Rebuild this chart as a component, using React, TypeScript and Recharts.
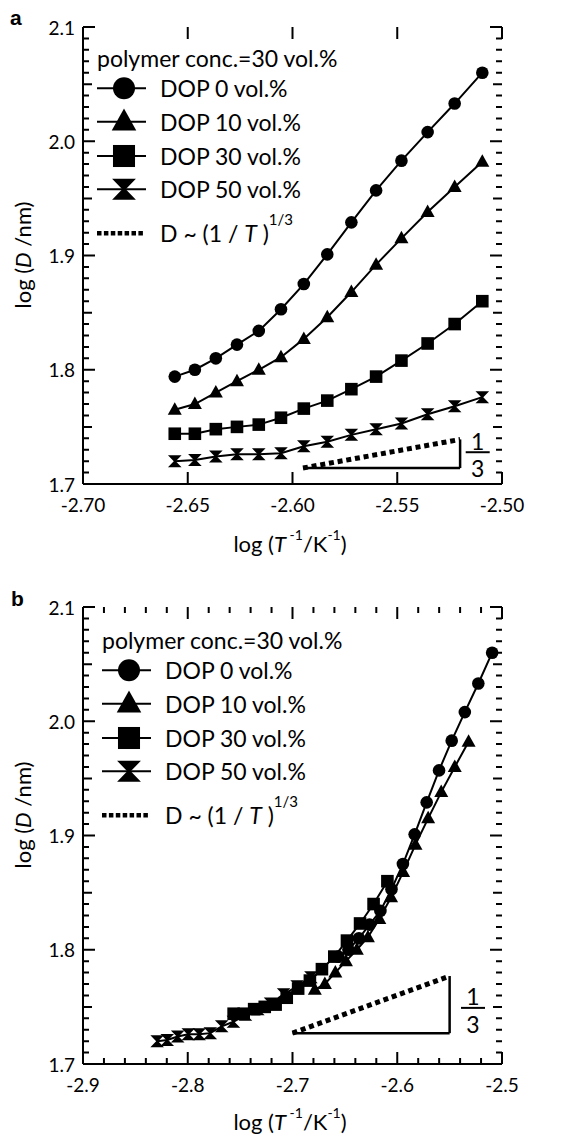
import React from "react";
import { ScatterChart, Scatter, XAxis, YAxis, ReferenceLine, ReferenceDot } from "recharts";

const FONT = "Lato, 'Open Sans', sans-serif";

// log(1/T) for the 14 measured temperatures (panel a, and DOP 0 in panel b)
const invT = [-2.6562, -2.6466, -2.6366, -2.6265, -2.6161, -2.6055, -2.5946, -2.5834, -2.5719, -2.5601, -2.548, -2.5355, -2.5226, -2.5094];

// log(D/nm) per DOP content
const dop0 = [1.794, 1.8, 1.81, 1.822, 1.834, 1.853, 1.875, 1.901, 1.929, 1.957, 1.983, 2.008, 2.033, 2.06];
const dop10 = [1.765, 1.77, 1.78, 1.79, 1.8, 1.811, 1.827, 1.846, 1.868, 1.892, 1.915, 1.938, 1.96, 1.982];
const dop30 = [1.744, 1.744, 1.748, 1.75, 1.752, 1.758, 1.766, 1.773, 1.783, 1.794, 1.808, 1.823, 1.84, 1.86];
const dop50 = [1.72, 1.721, 1.724, 1.726, 1.726, 1.727, 1.733, 1.737, 1.743, 1.748, 1.753, 1.761, 1.768, 1.776];

// panel b: shifted abscissae
const invT10b = [-2.6787, -2.6691, -2.6591, -2.649, -2.6386, -2.628, -2.6171, -2.6059, -2.5944, -2.5826, -2.5705, -2.558, -2.5451, -2.5319];
const invT30b = [-2.7562, -2.7466, -2.7366, -2.7265, -2.7161, -2.7055, -2.6946, -2.6834, -2.6719, -2.6601, -2.648, -2.6355, -2.6226, -2.6094];
const invT50b = [-2.8292, -2.8196, -2.8096, -2.7995, -2.7891, -2.7785, -2.7676, -2.7564, -2.7449, -2.7331, -2.721, -2.7085, -2.6956, -2.6824];

const legendLabels = ["DOP 0 vol.%", "DOP 10 vol.%", "DOP 30 vol.%", "DOP 50 vol.%"];

// slope guide D ~ (1/T)^(1/3): [start, end]
const slopeA = [{ x: -2.595, y: 1.714 }, { x: -2.52, y: 1.739 }];
const slopeB = [{ x: -2.7, y: 1.727 }, { x: -2.55, y: 1.777 }];

// tick lists
const xTicksA = [-2.7, -2.65, -2.6, -2.55, -2.5];
const xTicksB = [-2.9, -2.8, -2.7, -2.6, -2.5];
const xMinorB = [-2.88, -2.86, -2.84, -2.82, -2.78, -2.76, -2.74, -2.72, -2.68, -2.66, -2.64, -2.62, -2.58, -2.56, -2.54, -2.52];
const yTicks = [1.7, 1.8, 1.9, 2.0, 2.1];
const yMid = [1.75, 1.85, 1.95, 2.05];
const yMinor = [
  1.71, 1.72, 1.73, 1.74, 1.76, 1.77, 1.78, 1.79, 1.81, 1.82, 1.83, 1.84, 1.86, 1.87, 1.88, 1.89,
  1.91, 1.92, 1.93, 1.94, 1.96, 1.97, 1.98, 1.99, 2.01, 2.02, 2.03, 2.04, 2.06, 2.07, 2.08, 2.09,
];
const yDomain: [number, number] = [1.7, 2.1];

// plot frame, shared by both panels
const PLOT_LEFT = 83;
const PLOT_RIGHT_MARGIN = 70;
const PLOT_W = 572 - PLOT_RIGHT_MARGIN - PLOT_LEFT;

const rows = (xs: number[], ys: number[]) => xs.map((x, i) => ({ x, y: ys[i] }));

// markers
const circle = (cx: number, cy: number, s = 1) => <circle cx={cx} cy={cy} r={6.3 * s} fill="#000" />;
const triangle = (cx: number, cy: number, s = 1) => (
  <polygon points={`${cx},${cy - 7.5 * s} ${cx + 7 * s},${cy + 5 * s} ${cx - 7 * s},${cy + 5 * s}`} fill="#000" />
);
const square = (cx: number, cy: number, s = 1) => (
  <rect x={cx - 6.3 * s} y={cy - 6.3 * s} width={12.6 * s} height={12.6 * s} fill="#000" />
);
const hourglass = (cx: number, cy: number, s = 1) => (
  <polygon
    points={`${cx - 6.8 * s},${cy - 6 * s} ${cx + 6.8 * s},${cy - 6 * s} ${cx + 1 * s},${cy} ${cx + 6.8 * s},${cy + 6 * s} ${cx - 6.8 * s},${cy + 6 * s} ${cx - 1 * s},${cy}`}
    fill="#000"
  />
);
const markers = [circle, triangle, square, hourglass];

const xLabel = (digits: number) => (props: any) => (
  <text x={props.x} y={Number(props.y) + 20} textAnchor="middle" dominantBaseline="central" fill="#000" fontSize={19} fontFamily={FONT}>
    {Number(props.payload.value).toFixed(digits)}
  </text>
);
const yLabel = (props: any) => (
  <text x={Number(props.x) - 8} y={props.y} textAnchor="end" dominantBaseline="central" fill="#000" fontSize={19} fontFamily={FONT}>
    {Number(props.payload.value).toFixed(1)}
  </text>
);

type Pt = { x: number; y: number };

// inward tick marks on all four sides of the frame
function FrameTicks({
  top,
  plotTop,
  plotH,
  xDomain,
  xMajor,
  xMinor,
}: {
  top: number;
  plotTop: number;
  plotH: number;
  xDomain: [number, number];
  xMajor: number[];
  xMinor: number[];
}) {
  const px = (v: number) => PLOT_LEFT + ((v - xDomain[0]) / (xDomain[1] - xDomain[0])) * PLOT_W;
  const py = (v: number) => plotTop + ((yDomain[1] - v) / (yDomain[1] - yDomain[0])) * plotH;
  const right = PLOT_LEFT + PLOT_W;
  const bottom = plotTop + plotH;
  const ys: [number, number][] = [
    ...yTicks.map((v) => [v, 12] as [number, number]),
    ...yMid.map((v) => [v, 9] as [number, number]),
    ...yMinor.map((v) => [v, 6] as [number, number]),
  ];
  const xs: [number, number][] = [...xMajor.map((v) => [v, 12] as [number, number]), ...xMinor.map((v) => [v, 6] as [number, number])];
  let d = "";
  ys.forEach(([v, len]) => {
    const y = py(v);
    d += `M${PLOT_LEFT},${y}h${len}M${right},${y}h${-len}`;
  });
  xs.forEach(([v, len]) => {
    const x = px(v);
    d += `M${x},${bottom}v${-len}M${x},${plotTop}v${len}`;
  });
  return (
    <svg style={{ position: "absolute", left: 0, top, pointerEvents: "none" }} width={572} height={plotTop + plotH + 2}>
      <path d={d} stroke="#000" strokeWidth={2} fill="none" />
    </svg>
  );
}

function LegendBox({ left, top }: { left: number; top: number }) {
  const rowY = [61.3, 94.7, 129, 162.3];
  return (
    <svg style={{ position: "absolute", left, top }} width={260} height={222}>
      <text x={0} y={31.3} dominantBaseline="central" fontSize={23} fontFamily={FONT}>
        polymer conc.=30 vol.%
      </text>
      {legendLabels.map((label, i) => (
        <g key={label}>
          <line x1={0} x2={49} y1={rowY[i]} y2={rowY[i]} stroke="#000" strokeWidth={2} />
          {markers[i](27, rowY[i], 1.75)}
          <text x={63} y={rowY[i]} dominantBaseline="central" fontSize={23} fontFamily={FONT}>
            {label}
          </text>
        </g>
      ))}
      <line x1={0} x2={48} y1={206.3} y2={206.3} stroke="#000" strokeWidth={4.5} strokeDasharray="4.5 2.4" />
      <text x={63} y={206.3} dominantBaseline="central" fontSize={23} fontFamily={FONT}>
        D ~ (1 / <tspan fontStyle="italic">T</tspan> )<tspan dy={-14} fontSize={15}>1/3</tspan>
      </text>
    </svg>
  );
}

const fraction = (dx: number, dy: number) => (props: any) => {
  const { cx, cy } = props;
  const bx = cx + dx;
  const by = cy + dy;
  return (
    <g fontFamily={FONT} fontSize={23} fill="#000">
      <text x={bx} y={by - 11.5} textAnchor="middle" dominantBaseline="central">1</text>
      <line x1={bx - 12} x2={bx + 12} y1={by} y2={by} stroke="#000" strokeWidth={2} />
      <text x={bx} y={by + 16} textAnchor="middle" dominantBaseline="central">3</text>
    </g>
  );
};

const axisLine = { stroke: "#000", strokeWidth: 2 };

function Panel({
  height,
  marginTop,
  xHeight,
  xDomain,
  xTicks,
  xDigits,
  series,
  slope,
  fracDx,
  fracDy,
}: {
  height: number;
  marginTop: number;
  xHeight: number;
  xDomain: [number, number];
  xTicks: number[];
  xDigits: number;
  series: Pt[][];
  slope: Pt[];
  fracDx: number;
  fracDy: number;
}) {
  return (
    <ScatterChart width={572} height={height} margin={{ top: marginTop, right: PLOT_RIGHT_MARGIN, bottom: 0, left: 0 }}>
      <XAxis xAxisId="t" orientation="top" type="number" domain={xDomain} height={0} tick={false} tickLine={false} axisLine={axisLine} />
      <YAxis yAxisId="r" orientation="right" type="number" domain={yDomain} width={0} tick={false} tickLine={false} axisLine={axisLine} />
      <XAxis
        xAxisId="b"
        dataKey="x"
        type="number"
        domain={xDomain}
        ticks={xTicks}
        height={xHeight}
        tickSize={0}
        tickMargin={0}
        axisLine={axisLine}
        tickLine={false}
        tick={xLabel(xDigits)}
      />
      <YAxis
        yAxisId="l"
        dataKey="y"
        type="number"
        domain={yDomain}
        ticks={yTicks}
        width={PLOT_LEFT}
        tickSize={0}
        tickMargin={0}
        axisLine={axisLine}
        tickLine={false}
        tick={yLabel}
      />
      <ReferenceLine xAxisId="b" yAxisId="l" segment={[slope[0], { x: slope[1].x, y: slope[0].y }]} stroke="#000" strokeWidth={2.5} ifOverflow="visible" />
      <ReferenceLine xAxisId="b" yAxisId="l" segment={[{ x: slope[1].x, y: slope[0].y }, slope[1]]} stroke="#000" strokeWidth={2.5} ifOverflow="visible" />
      <ReferenceLine xAxisId="b" yAxisId="l" segment={slope} stroke="#000" strokeWidth={5} strokeDasharray="5 3.8" ifOverflow="visible" />
      <ReferenceDot xAxisId="b" yAxisId="l" x={slope[1].x} y={(slope[0].y + slope[1].y) / 2} r={0} shape={fraction(fracDx, fracDy)} />
      {series.map((data, i) => (
        <Scatter
          key={i}
          xAxisId="b"
          yAxisId="l"
          data={data}
          fill="#000"
          line={{ stroke: "#000", strokeWidth: 2 }}
          shape={(p: any) => markers[i](p.cx, p.cy)}
          isAnimationActive={false}
        />
      ))}
    </ScatterChart>
  );
}

const yTitle = (cy: number) => (
  <svg style={{ position: "absolute", left: 0, top: cy - 90 }} width={44} height={180}>
    <text x={22} y={90} transform="rotate(-90 22 90)" textAnchor="middle" dominantBaseline="central" fontSize={22} fontFamily={FONT}>
      log (<tspan fontStyle="italic">D</tspan> /nm)
    </text>
  </svg>
);

const xTitle = (cy: number) => (
  <svg style={{ position: "absolute", left: 190, top: cy - 17 }} width={200} height={30}>
    <text x={100} y={17} textAnchor="middle" dominantBaseline="central" fontSize={22} fontFamily={FONT}>
      log (<tspan fontStyle="italic">T</tspan>
      <tspan dy={-9} fontSize={14}> -1</tspan>
      <tspan dy={9}>/K</tspan>
      <tspan dy={-9} fontSize={14}>-1</tspan>
      <tspan dy={9}>)</tspan>
    </text>
  </svg>
);

export default function App() {
  const seriesA = [rows(invT, dop0), rows(invT, dop10), rows(invT, dop30), rows(invT, dop50)];
  const seriesB = [rows(invT, dop0), rows(invT10b, dop10), rows(invT30b, dop30), rows(invT50b, dop50)];
  const panelLabel = { position: "absolute" as const, fontFamily: "'Liberation Sans', Arial, sans-serif", fontWeight: 700, fontSize: 21 };
  return (
    <div style={{ position: "absolute", left: 0, top: 0, width: 572, height: 1136, background: "#fff", fontFamily: FONT }}>
      <div style={{ position: "absolute", left: 0, top: 0 }}>
        <Panel
          height={560}
          marginTop={27}
          xHeight={76}
          xDomain={[-2.7, -2.5]}
          xTicks={xTicksA}
          xDigits={2}
          series={seriesA}
          slope={slopeA}
          fracDx={17.6}
          fracDy={-1.5}
        />
      </div>
      <div style={{ position: "absolute", left: 0, top: 560 }}>
        <Panel
          height={576}
          marginTop={47}
          xHeight={72}
          xDomain={[-2.9, -2.5]}
          xTicks={xTicksB}
          xDigits={1}
          series={seriesB}
          slope={slopeB}
          fracDx={23.4}
          fracDy={3.3}
        />
      </div>
      <FrameTicks top={0} plotTop={27} plotH={457} xDomain={[-2.7, -2.5]} xMajor={xTicksA} xMinor={[]} />
      <FrameTicks top={560} plotTop={47} plotH={457} xDomain={[-2.9, -2.5]} xMajor={xTicksB} xMinor={xMinorB} />
      <LegendBox left={97} top={27} />
      <LegendBox left={101.5} top={608.7} />
      {yTitle(255)}
      {yTitle(815)}
      {xTitle(543)}
      {xTitle(1121)}
      <div style={{ ...panelLabel, left: 10, top: 6 }}>a</div>
      <div style={{ ...panelLabel, left: 11, top: 587 }}>b</div>
    </div>
  );
}
